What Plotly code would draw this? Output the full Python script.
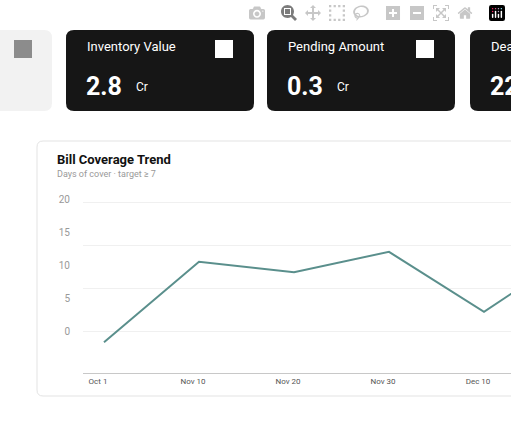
import plotly.graph_objects as go

dates = ["Oct 1", "Nov 10", "Nov 20", "Nov 30", "Dec 10", "Dec 20"]
coverage = [-1.7, 10.5, 8.9, 12.0, 2.9, 12.5]
y_ticks = [0, 5, 10, 15, 20]
grid_vals = [0, 6.5, 12.9, 19.4]
card_titles = ["Inventory Value", "Pending Amount", "Dea"]
card_values = ["2.8", "0.3", "22"]
card_units = ["Cr", "Cr", ""]

W, H = 511, 422
def px(x): return x / W
def py(y): return 1 - y / H

shapes, ann = [], []

def rr(x0, y0, x1, y1, r, fill, line=None):
    rx, ry = r / W, r / H
    X0, X1, Y0, Y1 = px(x0), px(x1), py(y0), py(y1)
    p = (f"M{X0+rx},{Y0} L{X1-rx},{Y0} Q{X1},{Y0} {X1},{Y0-ry} L{X1},{Y1+ry} Q{X1},{Y1} {X1-rx},{Y1} "
         f"L{X0+rx},{Y1} Q{X0},{Y1} {X0},{Y1+ry} L{X0},{Y0-ry} Q{X0},{Y0} {X0+rx},{Y0} Z")
    shapes.append(dict(type="path", xref="paper", yref="paper", layer="below", path=p,
                       fillcolor=fill, line=dict(width=1 if line else 0, color=line or fill)))

def rect(x0, y0, x1, y1, fill):
    shapes.append(dict(type="rect", xref="paper", yref="paper", x0=px(x0), x1=px(x1),
                       y0=py(y1), y1=py(y0), fillcolor=fill, line=dict(width=0)))

def text(x, y, t, size, color):
    ann.append(dict(xref="paper", yref="paper", x=px(x), y=py(y), text=t, showarrow=False,
                    xanchor="left", yanchor="middle", font=dict(family="Roboto", size=size, color=color)))

rr(-20, 30, 52, 111, 8, "#f2f2f2")
rect(14, 40, 32, 58, "#8c8c8c")
for i, x0 in enumerate([66, 267, 470]):
    rr(x0, 30, x0 + 188, 111, 8, "#161616")
    text(x0 + 19, 47, card_titles[i], 13, "white")
    rect(x0 + 149, 40, x0 + 167, 58, "#ffffff")
    text(x0 + 18, 87, f"<b>{card_values[i]}</b>", 25, "white")
    if card_units[i]:
        text(x0 + 68, 87, card_units[i], 12, "white")

rr(37, 141, 560, 396, 6, "#ffffff", "#e3e3e3")
text(55, 159, "<b>Bill Coverage Trend</b>", 13, "#111")
text(55, 174, "Days of cover · target ≥ 7", 9, "#999")

yr = [(331 - 373) / 6.6, (331 - 190) / 6.6]
fig = go.Figure()
fig.add_trace(go.Scatter(x=list(range(len(dates))), y=coverage, mode="lines",
                         line=dict(color="#5a8f8c", width=2), hoverinfo="skip"))
fig.add_trace(go.Scatter(x=[0], y=[0], yaxis="y2", mode="markers", marker=dict(opacity=0), hoverinfo="skip"))
fig.update_layout(
    width=W, height=H, margin=dict(l=0, r=0, t=0, b=0), showlegend=False,
    paper_bgcolor="white", plot_bgcolor="rgba(0,0,0,0)",
    shapes=shapes, annotations=ann,
    xaxis=dict(domain=[px(83), 1], range=[(83 - 104) / 95, (511 - 104) / 95],
               tickvals=list(range(len(dates))), ticktext=dates, showgrid=False, zeroline=False,
               showline=True, linecolor="#c8c8c8", ticks="", ticklabelshift=-6,
               tickfont=dict(family="Roboto", size=8, color="#555")),
    yaxis=dict(domain=[py(373), py(190)], range=yr, tickvals=y_ticks, showgrid=False, zeroline=False,
               ticklabelstandoff=12, tickfont=dict(family="Roboto", size=10, color="#999")),
    yaxis2=dict(overlaying="y", range=yr, tickvals=grid_vals, showticklabels=False, showgrid=True,
                gridcolor="#f0f0f0", zeroline=False),
)
fig.write_html("out.html", post_script="document.body.style.margin='0';document.body.style.overflow='hidden';")
